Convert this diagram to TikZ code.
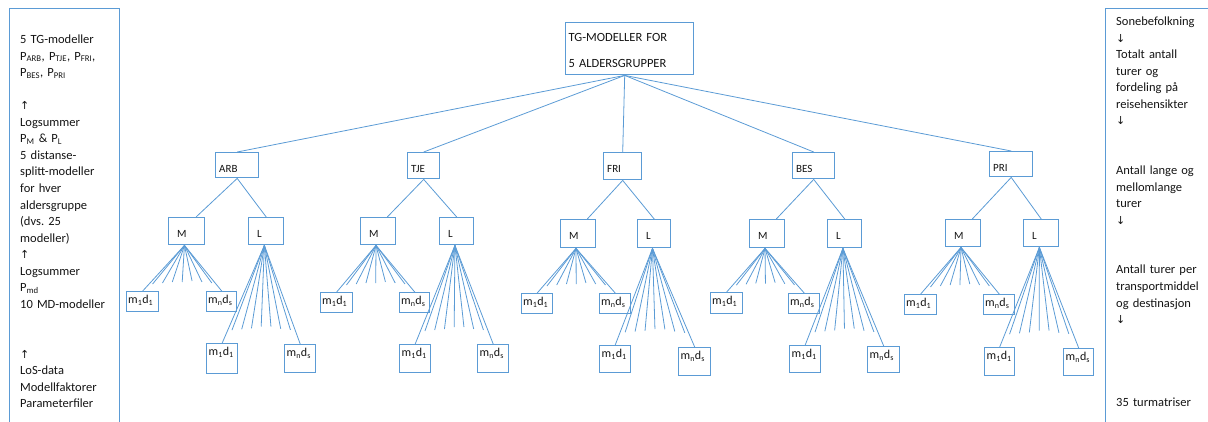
\documentclass[tikz,border=0pt]{standalone}
\usepackage{fontspec}
\setmainfont{Carlito}
\newfontfamily\arrowfont{DejaVu Sans}
\usetikzlibrary{calc}
\definecolor{bl}{RGB}{91,155,213}
\definecolor{tx}{RGB}{20,20,20}
\tikzset{
  bx/.style={draw=bl, line width=1.4pt, rectangle, align=left, text=tx},
  cn/.style={draw=bl, line width=0.8pt},
  panel/.style={draw=bl, line width=0.9pt},
  ptext/.style={text=tx, anchor=base west, inner sep=0pt, text width=160pt, align=left,
     font=\fontsize{12.5}{16.56}\selectfont}
}
\newcommand\sbs[1]{\textsubscript{#1}}
\newcommand\upar{{\arrowfont\fontsize{11}{11}\selectfont ↑}}
\newcommand\dnar{{\arrowfont\fontsize{11}{11}\selectfont ↓}}
% name, x1, y1, x2, y2, baseline from top, inset, font, text
\newcommand\mkbox[9]{%
  \pgfmathsetmacro\bxW{#4-#2-2*#7}%
  \pgfmathsetmacro\bxD{#5-#3-#6}%
  \node[bx, anchor=north west, inner xsep=#7pt, inner ysep=0pt, text width=\bxW pt,
        text height=#6pt, text depth=\bxD pt, font=#8] (#1) at (#2,#3) {#9};}
% parent, fraction, left leaf, right leaf, offsets
\newcommand\fanout[5]{%
  \coordinate (#1o) at ($(#1.south west)!#2!(#1.south east)$);
  \draw[cn] (#1o) -- (#3.north);
  \draw[cn] (#1o) -- (#4.north);
  \foreach \k/\dy in {#5} {
    \coordinate (#1e\k) at ($(#3.north)!\k/8!(#4.north)+(0,-\dy)$);
    \draw[cn] (#1o) -- (#1e\k);
  }}
\newcommand\lfa{m\sbs{1}d\sbs{1}}
\newcommand\lfb{m\sbs{n}d\sbs{s}}
\newcommand\lff{\fontsize{12}{14}\selectfont}
\newcommand\gff{\fontsize{11}{13}\selectfont}
\begin{document}
\begin{tikzpicture}[x=1pt,y=-1pt]
\useasboundingbox (0,0) rectangle (1208,421);
% side panels
\draw[panel] (9,440) -- (9,8) -- (119,8) -- (119,440);
\draw[panel] (1230,8) -- (1105,8) -- (1105,440);
\node[ptext] (lefttxt) at (20,43.5) {5 TG-modeller\\
P\sbs{ARB}, P\sbs{TJE}, P\sbs{FRI},\\
P\sbs{BES}, P\sbs{PRI}\\
\mbox{}\\
\upar\\
Logsummer\\
P\sbs{M} \& P\sbs{L}\\
5 distanse-\\
splitt-modeller\\
for hver\\
aldersgruppe\\
(dvs.\ 25\\
modeller)\\
\upar\\
Logsummer\\
P\sbs{md}\\
10 MD-modeller\\
\mbox{}\\
\mbox{}\\
\upar\\
LoS-data\\
Modellfaktorer\\
Parameterfiler};
\node[ptext] (righttxt) at (1116,25.5) {Sonebefolkning\\
\dnar\\
Totalt antall\\
turer og\\
fordeling på\\
reisehensikter\\
\dnar\\
\mbox{}\\
\mbox{}\\
Antall lange og\\
mellomlange\\
turer\\
\dnar\\
\mbox{}\\
\mbox{}\\
Antall turer per\\
transportmiddel\\
og destinasjon\\
\dnar\\
\mbox{}\\
\mbox{}\\
\mbox{}\\
\mbox{}\\
35 turmatriser};
% top node
\mkbox{top}{565}{22}{693}{74}{19}{3}{\fontsize{12.5}{26}\selectfont}{TG-MODELLER FOR\\5 ALDERSGRUPPER}
% ARB
\mkbox{ARB}{215}{152}{258}{177}{19.5}{3.5}{\gff}{ARB}
\mkbox{ARBM}{168}{217}{204}{244}{20}{8.5}{\gff}{M}
\mkbox{ARBL}{248}{217}{283}{244}{20}{8.5}{\gff}{L}
\mkbox{ARBm1}{126}{291}{158}{311}{12}{1.5}{\lff}{\lfa}
\mkbox{ARBm2}{206}{291}{236}{311}{12}{1.5}{\lff}{\lfb}
\mkbox{ARBl1}{206}{343}{237}{373}{12}{2}{\lff}{\lfa}
\mkbox{ARBl2}{284}{344}{315}{372}{12}{2}{\lff}{\lfb}
% TJE
\mkbox{TJE}{407}{152}{439}{178}{19.5}{3.5}{\gff}{TJE}
\mkbox{TJEM}{360}{217}{395}{244}{20}{8.5}{\gff}{M}
\mkbox{TJEL}{439}{217}{473}{244}{20}{8.5}{\gff}{L}
\mkbox{TJEm1}{320}{292}{352}{312}{12}{1.5}{\lff}{\lfa}
\mkbox{TJEm2}{399}{292}{429}{312}{12}{1.5}{\lff}{\lfb}
\mkbox{TJEl1}{399}{344}{430}{372}{12}{2}{\lff}{\lfa}
\mkbox{TJEl2}{477}{344}{508}{372}{12}{2}{\lff}{\lfb}
% FRI
\mkbox{FRI}{603}{152}{641}{179}{19.5}{3.5}{\gff}{FRI}
\mkbox{FRIM}{560}{219}{595}{247}{20}{8.5}{\gff}{M}
\mkbox{FRIL}{637}{219}{670}{247}{20}{8.5}{\gff}{L}
\mkbox{FRIm1}{521}{293}{552}{313}{12}{1.5}{\lff}{\lfa}
\mkbox{FRIm2}{599}{293}{630}{313}{12}{1.5}{\lff}{\lfb}
\mkbox{FRIl1}{599}{345}{630}{372}{12}{2}{\lff}{\lfa}
\mkbox{FRIl2}{678}{347}{710}{375}{12}{2}{\lff}{\lfb}
% BES
\mkbox{BES}{792}{152}{834}{178}{19.5}{3.5}{\gff}{BES}
\mkbox{BESM}{749}{219}{784}{247}{20}{8.5}{\gff}{M}
\mkbox{BESL}{827}{219}{861}{247}{20}{8.5}{\gff}{L}
\mkbox{BESm1}{710}{292}{742}{313}{12}{1.5}{\lff}{\lfa}
\mkbox{BESm2}{788}{293}{819}{313}{12}{1.5}{\lff}{\lfb}
\mkbox{BESl1}{789}{345}{820}{372}{12}{2}{\lff}{\lfa}
\mkbox{BESl2}{867}{346}{899}{372}{12}{2}{\lff}{\lfb}
% PRI
\mkbox{PRI}{989}{151}{1032}{176}{19.5}{3.5}{\gff}{PRI}
\mkbox{PRIM}{945}{219}{980}{246}{20}{8.5}{\gff}{M}
\mkbox{PRIL}{1023}{219}{1058}{246}{20}{8.5}{\gff}{L}
\mkbox{PRIm1}{904}{294}{936}{314}{12}{1.5}{\lff}{\lfa}
\mkbox{PRIm2}{983}{294}{1014}{314}{12}{1.5}{\lff}{\lfb}
\mkbox{PRIl1}{984}{347}{1014}{375}{12}{2}{\lff}{\lfa}
\mkbox{PRIl2}{1063}{348}{1093}{375}{12}{2}{\lff}{\lfb}
% connectors
\coordinate (hub) at ([xshift=-5pt]top.south);
\foreach \g in {ARB,TJE,FRI,BES,PRI}{
  \draw[cn] (hub) -- (\g.north);
  \draw[cn] (\g.south) -- ($(\g M.north west)!0.75!(\g M.north east)$);
  \draw[cn] (\g.south) -- (\g L.north);
  \fanout{\g M}{0.44}{\g m1}{\g m2}{1/7,2/8,3/9,4/9,5/10,6/9,7/8}
  \fanout{\g L}{0.45}{\g l1}{\g l2}{1/13,2/14,3/15,4/17,5/17,6/15,7/14}
}
\end{tikzpicture}
\end{document}
